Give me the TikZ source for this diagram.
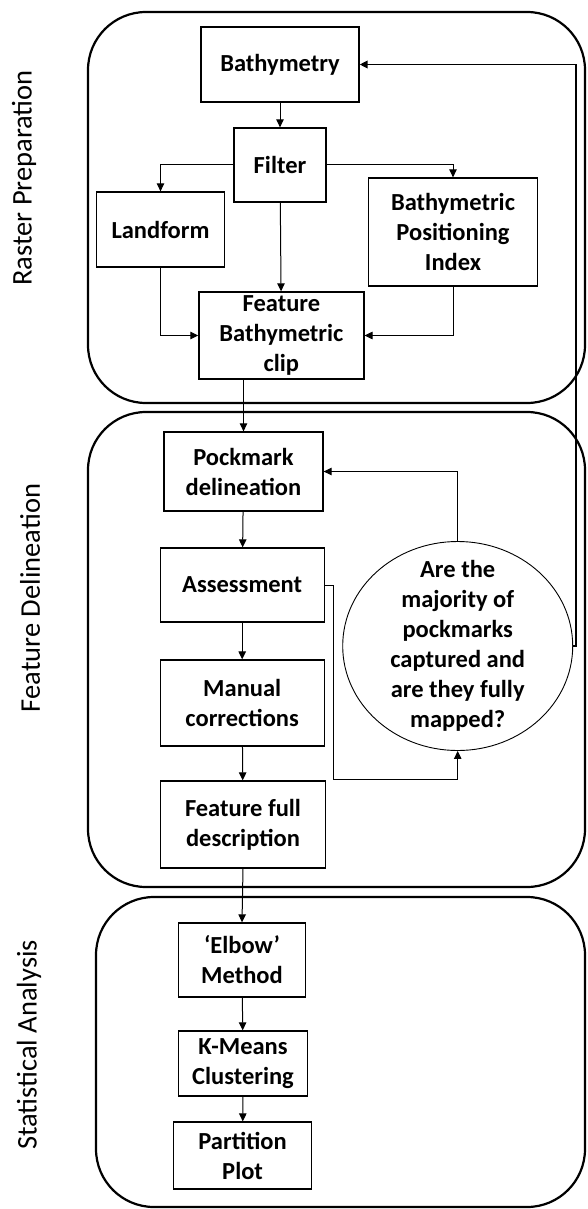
\documentclass[tikz,border=0pt]{standalone}
\usepackage{fontspec}
\setmainfont{Carlito}
\usetikzlibrary{arrows.meta, calc, shapes.geometric}

\begin{document}
\begin{tikzpicture}[x=1pt, y=-1pt,
  box/.style={draw, line width=1.3pt, align=center, inner sep=0pt,
    font=\bfseries\fontsize{24.5}{30}\selectfont},
  arr/.style={line width=1pt, -{Triangle[length=8pt,width=7.5pt]}},
  back/.style={line width=1.9pt, -{Triangle[length=8pt,width=7.5pt]}},
  frame/.style={line width=2.2pt, rounded corners=58pt},
  side/.style={rotate=90, font=\fontsize{28.5}{34}\selectfont}]
\useasboundingbox (0,0) rectangle (587,1209);
\draw[frame] (88,12) rectangle (585,403);
\draw[frame] (88,412) rectangle (585,887);
\draw[frame] (96,897) rectangle (585,1207);
\node[side] (rp) at (24,178) {Raster Preparation};
\node[side] (fd) at (30,598) {Feature Delineation};
\node[side] (sa) at (29,1045) {Statistical Analysis};
\node[box, minimum width=158, minimum height=75] (bathy) at (280,64.5) {Bathymetry};
\node[box, minimum width=92, minimum height=74] (filter) at (280,165) {Filter};
\node[box, minimum width=128.5, minimum height=75] (land) at (160.5,229.5) {Landform};
\node[box, minimum width=168.5, minimum height=108] (bpi) at (453,232) {Bathymetric\\Positioning\\Index};
\node[box, minimum width=165, minimum height=87] (clip) at (281.4,335.5) {Feature\\Bathymetric\\clip};
\node[box, minimum width=159, minimum height=79] (pock) at (243.5,471.5) {Pockmark\\delineation};
\node[box, minimum width=164, minimum height=74] (assess) at (242.2,585) {Assessment};
\node[box, minimum width=164, minimum height=86] (manual) at (242.2,703) {Manual\\corrections};
\node[box, minimum width=165.5, minimum height=87] (desc) at (243,824.5) {Feature full\\description};
\node[box, ellipse, line width=0.9pt, minimum width=230, minimum height=209,
  inner xsep=0pt, inner ysep=-14pt] (q) at (457.7,646)
  {Are the\\majority of\\pockmarks\\captured and\\are they fully\\mapped?};
\node[box, minimum width=127, minimum height=74] (elbow) at (242,960) {‘Elbow’\\Method};
\node[box, minimum width=129.5, minimum height=65] (kmeans) at (243,1063.5) {K-Means\\Clustering};
\node[box, minimum width=138, minimum height=67] (plot) at (242.6,1155.5) {Partition\\Plot};
\coordinate (turn) at (457.7,779);
\draw[arr] (bathy) -- (filter);
\draw[arr] (filter.west) -| (land.north);
\draw[arr] (filter.east) -| (bpi.north);
\draw[arr] (filter) -- (clip);
\draw[arr] (land.south) |- (clip.west);
\draw[arr] (bpi.south) |- (clip.east);
\draw[arr] (clip.south -| pock.north) -- (pock.north);
\draw[arr] (pock) -- (assess);
\draw[arr] (assess) -- (manual);
\draw[arr] (manual) -- (desc);
\draw[arr] (desc.south) -- (elbow.north);
\draw[arr] (elbow) -- (kmeans);
\draw[arr] (kmeans) -- (plot);
\draw[arr] (assess.east) -- ++(9,0) |- (turn) -- (q.south);
\draw[arr] (q.north) |- (pock.east);
\draw[back] (q.east) -- ++(3,0) |- (bathy.east);
\end{tikzpicture}
\end{document}
